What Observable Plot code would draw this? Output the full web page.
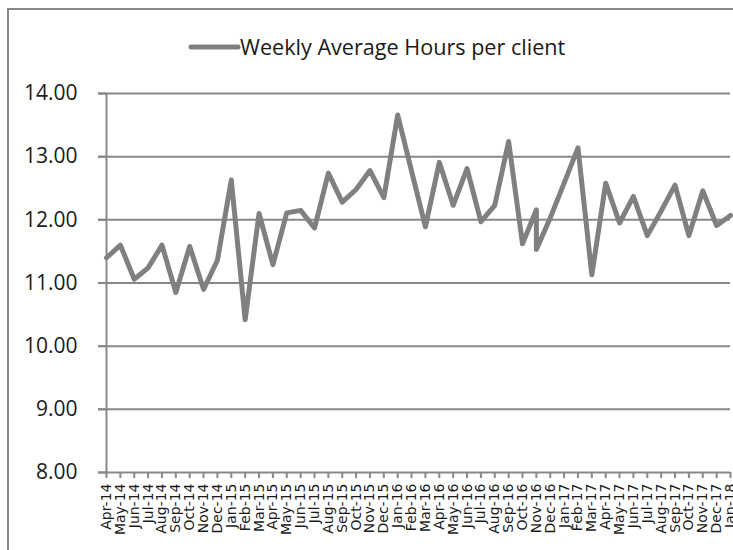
<!DOCTYPE html>
<html>
<head>
<meta charset="utf-8">
<script src="https://cdn.jsdelivr.net/npm/d3@7"></script>
<script src="https://cdn.jsdelivr.net/npm/@observablehq/plot@0.6"></script>
<style>
  html, body { margin: 0; padding: 0; background: #fff; }
  #chart { width: 733px; height: 550px; overflow: hidden; }
</style>
</head>
<body>
<div id="chart"></div>
<script>
// Category axis labels (one tick per month)
const months = [
  "Apr-14","May-14","Jun-14","Jul-14","Aug-14","Sep-14","Oct-14","Nov-14","Dec-14",
  "Jan-15","Feb-15","Mar-15","Apr-15","May-15","Jun-15","Jul-15","Aug-15","Sep-15","Oct-15","Nov-15","Dec-15",
  "Jan-16","Feb-16","Mar-16","Apr-16","May-16","Jun-16","Jul-16","Aug-16","Sep-16","Oct-16","Nov-16","Dec-16",
  "Jan-17","Feb-17","Mar-17","Apr-17","May-17","Jun-17","Jul-17","Aug-17","Sep-17","Oct-17","Nov-17","Dec-17",
  "Jan-18"
];

// Series: month of each plotted point (Nov-16 carries two readings in the source chart)
const seriesMonth = [
  "Apr-14","May-14","Jun-14","Jul-14","Aug-14","Sep-14","Oct-14","Nov-14","Dec-14",
  "Jan-15","Feb-15","Mar-15","Apr-15","May-15","Jun-15","Jul-15","Aug-15","Sep-15","Oct-15","Nov-15","Dec-15",
  "Jan-16","Feb-16","Mar-16","Apr-16","May-16","Jun-16","Jul-16","Aug-16","Sep-16","Oct-16","Nov-16","Nov-16","Dec-16",
  "Jan-17","Feb-17","Mar-17","Apr-17","May-17","Jun-17","Jul-17","Aug-17","Sep-17","Oct-17","Nov-17","Dec-17",
  "Jan-18"
];
const seriesHours = [
  11.40, 11.60, 11.06, 11.24, 11.60, 10.85, 11.58, 10.90, 11.36,
  12.63, 10.42, 12.10, 11.29, 12.11, 12.15, 11.87, 12.74, 12.28, 12.48, 12.78, 12.35,
  13.66, 12.77, 11.89, 12.91, 12.23, 12.81, 11.97, 12.23, 13.24, 11.62, 12.16, 11.53, 12.03,
  12.58, 13.14, 11.13, 12.58, 11.95, 12.37, 11.75, 12.14, 12.55, 11.75, 12.46, 11.91,
  12.07
];

const yTicks = [8, 9, 10, 11, 12, 13, 14];
const seriesName = "Weekly Average Hours per client";

const data = seriesMonth.map((m, i) => ({month: m, hours: seriesHours[i]}));

const gray = "#888888";
const lineGray = "#808080";

const chart = Plot.plot({
  width: 733,
  height: 550,
  marginLeft: 106,
  marginRight: 3,
  marginTop: 93,
  marginBottom: 78,
  style: {background: "#fff", overflow: "visible"},
  x: {type: "point", domain: months, padding: 0, label: null},
  y: {domain: [8, 14], label: null},
  marks: [
    Plot.ruleY(yTicks.slice(1), {stroke: gray, strokeWidth: 2, insetLeft: -8}),
    Plot.axisY({
      ticks: yTicks, tickFormat: d3.format(".2f"), tickSize: 8, tickPadding: 21,
      stroke: gray, strokeWidth: 2, fontSize: 21, fontFamily: "Open Sans", fill: "#1a1a1a",
      strokeOpacity: 1, label: null
    }),
    Plot.ruleX([months[0]], {y1: 8, y2: 14, stroke: gray, strokeWidth: 2}),
    Plot.ruleY([8], {stroke: gray, strokeWidth: 2, insetLeft: -8}),
    Plot.axisX({
      tickRotate: -90, tickSize: 6, tickPadding: 5, stroke: gray, strokeWidth: 2,
      fontSize: 14, fontFamily: "DejaVu Sans", fill: "#1a1a1a", strokeOpacity: 1, label: null
    }),
    Plot.line(data, {x: "month", y: "hours", stroke: lineGray, strokeWidth: 5})
  ]
});

const svg = d3.select(chart);
// outer chart-area frame (cut by the picture edge on the right and bottom)
svg.append("rect")
  .attr("x", 8).attr("y", 9).attr("width", 900).attr("height", 700)
  .attr("fill", "none").attr("stroke", gray).attr("stroke-width", 2);
// legend
svg.append("line")
  .attr("x1", 191).attr("x2", 238).attr("y1", 47).attr("y2", 47)
  .attr("stroke", lineGray).attr("stroke-width", 5).attr("stroke-linecap", "round");
svg.append("text")
  .attr("x", 240).attr("y", 55)
  .attr("text-anchor", "start")
  .attr("font-family", "Open Sans").attr("font-size", 21.6).attr("fill", "#1a1a1a")
  .text(seriesName);

document.getElementById("chart").appendChild(chart);
</script>
</body>
</html>
